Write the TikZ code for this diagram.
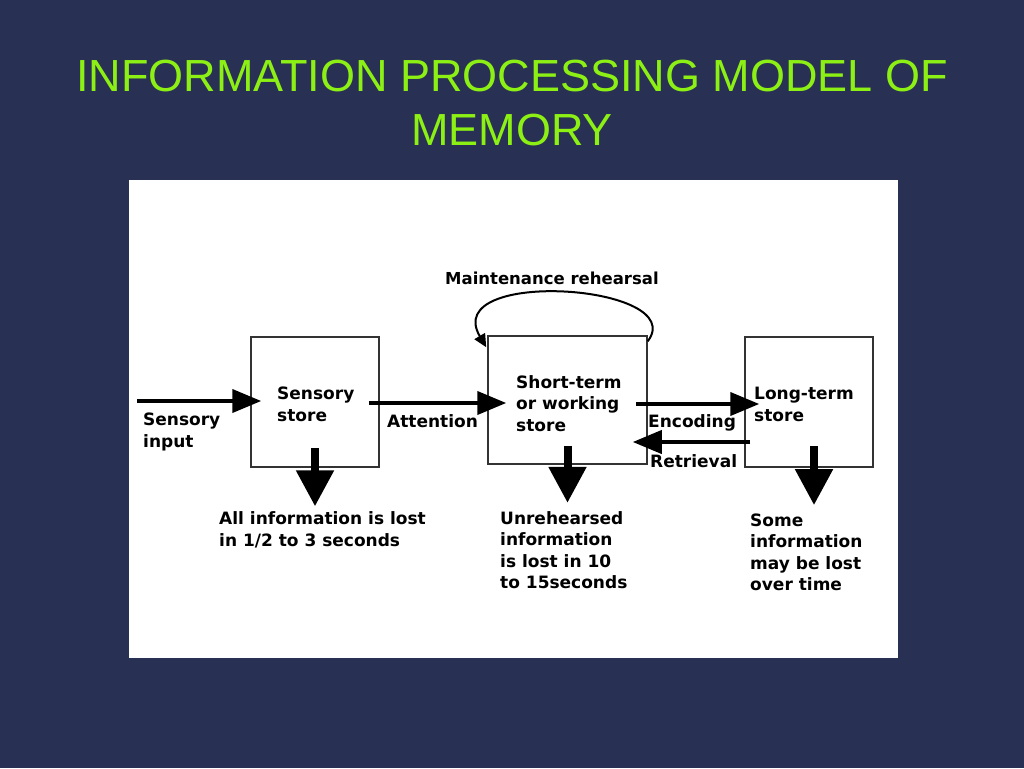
\documentclass[tikz,border=0pt]{standalone}
\usepackage{fontspec}
\setmainfont{Liberation Sans}
\newfontfamily\diagfont{DejaVu Sans}
\usepackage{tikz}
\usetikzlibrary{arrows.meta}

\definecolor{slidebg}{RGB}{40,48,84}
\definecolor{titlegreen}{RGB}{140,240,20}

\begin{document}
\begin{tikzpicture}[
x=1pt,y=-1pt,
box/.style={
  draw=black!80,
  line width=1.5pt,
  minimum width=128pt,
  minimum height=130pt,
  inner sep=0pt
},
lbl/.style={
  anchor=base west,
  align=left,
  inner sep=0pt,
  font=\diagfont\bfseries\fontsize{17}{21.5}\selectfont
},
flow/.style={
  line width=4pt,
  -{Triangle[length=29pt,width=23pt]}
},
lost/.style={
  line width=8pt,
  -{Triangle[length=36pt,width=36pt]}
},
loopy/.style={
  line width=2pt,
  -{Triangle[length=13pt,width=12pt]}
}
]
\useasboundingbox (0,0) rectangle (1024,768);
\fill[slidebg] (0,0) rectangle (1024,768);
\fill[white] (129,180) rectangle (898,658);

% base of a multi-line node is its last line
\node[anchor=base,align=center,text=titlegreen,
  font=\fontsize{45}{54}\selectfont] 
  (title) at (512,145) {INFORMATION PROCESSING MODEL OF\\MEMORY};

% the three stores
\node[box] (sens) at (315,402) {};
\node[box,minimum width=159pt,minimum height=128pt] (stm) at (567.5,400) {};
\node[box] (ltm) at (809,402) {};

\node[lbl] (senslbl) at (277,421) {Sensory\\store};
\node[lbl] (stmlbl) at (516,431) {Short-term\\or working\\store};
\node[lbl] (ltmlbl) at (754,421) {Long-term\\store};

\node[lbl] (inlbl) at (143,447) {Sensory\\input};
\node[lbl] (att) at (387,427) {Attention};
\node[lbl] (enc) at (648,427) {Encoding};
\node[lbl] (ret) at (650,467) {Retrieval};
\node[lbl,font=\diagfont\bfseries\fontsize{16.5}{20}\selectfont] 
  (maint) at (445,284) {Maintenance rehearsal};

\node[lbl] (senslost) at (219,546) {All information is lost\\in 1/2 to 3 seconds};
\node[lbl] (stmlost) at (500,588.5) {Unrehearsed\\information\\is lost in 10\\to 15seconds};
\node[lbl] (ltmlost) at (750,590.5) {Some\\information\\may be lost\\over time};

% flow between stores
\coordinate (src) at (137,401);
\draw[flow,shorten >=-11pt] (src) -- ([yshift=1pt]sens.west);
\draw[flow,shorten <=-11pt,shorten >=-19pt] ([yshift=-1pt]sens.east) -- ([yshift=-3pt]stm.west);
\draw[flow,shorten <=-12pt,shorten >=-15pt] ([yshift=-4pt]stm.east) -- ([yshift=-2pt]ltm.west);
\draw[flow,shorten <=-6pt,shorten >=-15pt] ([yshift=-40pt]ltm.west) -- ([yshift=-42pt]stm.east);

% forgetting
\draw[lost,shorten <=-20pt,shorten >=5pt] (sens.south) -- (sens.south |- senslost.north);
\draw[lost,shorten <=-19pt,shorten >=8pt] (stm.south) -- (stm.south |- stmlost.north);
\draw[lost,shorten <=-22pt,shorten >=8pt] ([xshift=5pt]ltm.south) -- ([xshift=5pt]ltm.south |- ltmlost.north);

% rehearsal loop
\draw[loopy] ([yshift=-6pt]stm.north east) .. controls +(43,-57) and +(-47,-80) .. ([xshift=-1pt,yshift=-12pt]stm.north west);

\end{tikzpicture}
\end{document}
